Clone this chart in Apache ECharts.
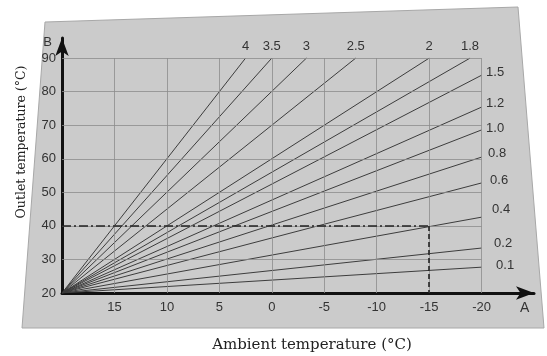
<!DOCTYPE html>
<html>
<head>
<meta charset="utf-8">
<script src="https://cdn.jsdelivr.net/npm/echarts@6/dist/echarts.min.js"></script>
<style>
html,body{margin:0;padding:0;background:#ffffff;}
#chart{width:547px;height:356px;}
</style>
</head>
<body>
<div id="chart"></div>
<script>
// ---- data ----
const curveNames = ['4', '3.5', '3', '2.5', '2', '1.8', '1.5', '1.2', '1.0', '0.8', '0.6', '0.4', '0.2', '0.1'];
const curveStart = [20, 20];
const curveEndAmbient = [2.5, 0, -3.3, -8, -15, -18.9, -20, -20, -20, -20, -20, -20, -20, -20];
const curveEndOutlet = [90, 90, 90, 90, 90, 90, 84.9, 75.4, 68.6, 60.5, 52.8, 42.6, 33.4, 27.7];
const xTickLabels = [15, 10, 5, 0, -5, -10, -15, -20];
const yTickLabels = [20, 30, 40, 50, 60, 70, 80, 90];
const xGridValues = [15, 10, 5, 0, -5, -10, -15, -20];
const yGridValues = [30, 40, 50, 60, 70, 80, 90];
const refAmbient = -15;
const refOutlet = 40;
const xTitle = 'Ambient temperature (°C)';
const yTitle = 'Outlet temperature (°C)';

// ---- build ----
const chart = echarts.init(document.getElementById('chart'), null, {renderer: 'canvas'});
const xMinGrid = xGridValues[xGridValues.length - 1];
const xMaxGrid = curveStart[0];
const yMinGrid = curveStart[1];
const yMaxGrid = yGridValues[yGridValues.length - 1];

const tickFont = {fontFamily: 'Liberation Sans', fontSize: 13, color: '#333'};

const gridLines = [];
xGridValues.forEach(v => gridLines.push([{coord: [v, yMinGrid]}, {coord: [v, yMaxGrid]}]));
yGridValues.forEach(v => gridLines.push([{coord: [xMaxGrid, v]}, {coord: [xMinGrid, v]}]));

// label nudges (style only): [distance, dy] for right-side labels
const rightNudge = [[4,-3],[4,-4],[4,-2],[6,-4],[8,-3],[10,-8],[12,-5],[14,-2]];

const series = [];
series.push({
  type: 'line', data: [], silent: true,
  markLine: {
    silent: true, symbol: ['none', 'none'], label: {show: false},
    lineStyle: {color: '#8c8c8c', width: 0.8, type: 'solid'},
    data: gridLines
  }
});
series.push({
  type: 'line', data: [], silent: true,
  markLine: {
    silent: true, symbol: ['none', 'none'], label: {show: false},
    data: [
      [{coord: [xMaxGrid, refOutlet], lineStyle: {color: '#222', width: 1.6, type: [9, 3, 2, 3]}},
       {coord: [refAmbient, refOutlet]}],
      [{coord: [refAmbient, refOutlet], lineStyle: {color: '#222', width: 1.6, type: [5, 3]}},
       {coord: [refAmbient, yMinGrid]}]
    ]
  },
  z: 3
});
curveNames.forEach((name, i) => {
  const atTop = curveEndOutlet[i] >= yMaxGrid;
  let label;
  if (atTop) {
    label = {show: true, position: 'top', distance: 5, formatter: name, ...tickFont};
  } else {
    const nd = rightNudge[i - 6] || [4, 0];
    label = {show: true, position: 'right', distance: nd[0], offset: [0, nd[1]], formatter: name, ...tickFont};
  }
  series.push({
    name: name,
    type: 'line',
    showSymbol: true,
    symbol: 'circle',
    symbolSize: 1,
    itemStyle: {color: 'rgba(0,0,0,0)', borderWidth: 0},
    lineStyle: {color: '#3c3c3c', width: 1},
    label: {show: false},
    data: [
      {value: [curveStart[0], curveStart[1]], label: {show: false}},
      {value: [curveEndAmbient[i], curveEndOutlet[i]], label: label}
    ],
    z: 2
  });
});

const option = {
  animation: false,
  backgroundColor: '#ffffff',
  graphic: [
    {type: 'polygon', z: -10, silent: true,
     shape: {points: [[45, 22], [518, 7], [544, 328], [22, 328]]},
     style: {fill: '#cbcbcb', stroke: '#a8a8a8', lineWidth: 1}},
    {type: 'text', x: 312, y: 345, silent: true,
     style: {text: xTitle, font: '15px "DejaVu Serif"', fill: '#222', align: 'center', verticalAlign: 'middle'}},
    {type: 'text', x: 22, y: 142, rotation: Math.PI / 2, silent: true,
     style: {text: yTitle, font: '12.5px "DejaVu Serif"', fill: '#222', align: 'center', verticalAlign: 'middle'}}
  ],
  grid: {left: 62, right: 13, top: 38, bottom: 63},
  xAxis: {
    type: 'value', inverse: true, min: -25, max: 20, interval: 5,
    name: 'A', nameLocation: 'start', nameGap: -14,
    nameTextStyle: {...tickFont, fontSize: 14, verticalAlign: 'top', padding: [8, 0, 0, 0]},
    axisLine: {show: true, onZero: false, symbol: ['none', 'arrow'], symbolSize: [10, 18], lineStyle: {color: '#111', width: 3}},
    axisTick: {show: false},
    splitLine: {show: false},
    axisLabel: {margin: 8, ...tickFont, formatter: v => xTickLabels.includes(v) ? String(v) : ''}
  },
  yAxis: {
    type: 'value', min: 20, max: 96, interval: 10,
    name: 'B', nameLocation: 'end', nameGap: -4,
    nameTextStyle: {...tickFont, align: 'right', verticalAlign: 'middle', padding: [0, 10, 0, 0]},
    axisLine: {show: true, onZero: false, symbol: ['none', 'arrow'], symbolSize: [10, 18], lineStyle: {color: '#111', width: 3}},
    axisTick: {show: false},
    splitLine: {show: false},
    axisLabel: {margin: 6, ...tickFont, formatter: v => yTickLabels.includes(v) ? String(v) : ''}
  },
  series: series
};
chart.setOption(option);
</script>
</body>
</html>
